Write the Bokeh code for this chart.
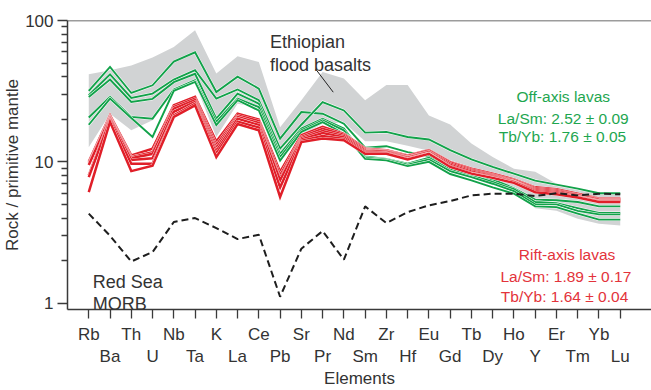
from bokeh.plotting import figure
from bokeh.models import Range1d, FixedTicker, LinearAxis, Span, Label
from bokeh.embed import file_html
from bokeh.resources import INLINE

# ---------------- data ----------------
elements = ["Rb", "Ba", "Th", "U", "Nb", "Ta", "K", "La", "Ce", "Pb", "Sr", "Pr", "Nd",
            "Sm", "Zr", "Hf", "Eu", "Gd", "Tb", "Dy", "Ho", "Y", "Er", "Tm", "Yb", "Lu"]
xpos = list(range(len(elements)))

# Ethiopian flood basalts envelope
efb_upper = [41.6, 44.5, 48.0, 54.7, 65.0, 85.4, 42.2, 55.8, 50.9, 17.6, 27.3, 43.3, 38.8,
             27.3, 35.0, 35.0, 21.3, 18.4, 13.5, 10.8, 8.95, 8.5, 7.0, 6.45, 6.05, 5.95]
efb_lower = [12.7, 21.9, 16.7, 19.7, 31.5, 36.0, 15.0, 25.8, 24.4, 10.2, 15.4, 18.6, 19.0,
             14.0, 14.0, 13.0, 12.0, 10.0, 8.9, 7.6, 6.3, 4.7, 4.5, 3.96, 3.65, 3.55]

# Off-axis lavas (green)
off_axis_1 = [31.8, 46.9, 30.7, 34.8, 51.2, 59.6, 31.2, 40.0, 33.0, 14.6, 22.5, 21.9, 18.6,
              12.6, 12.9, 11.7, 11.0, 9.0, 8.3, 7.5, 6.5, 5.4, 5.35, 5.2, 4.84, 4.84]
off_axis_2 = [29.6, 41.6, 28.3, 30.4, 38.2, 44.5, 28.0, 32.5, 27.3, 12.4, 18.3, 26.5, 23.1,
              16.1, 16.3, 15.0, 14.4, 12.1, 10.4, 9.2, 8.25, 7.36, 6.9, 6.46, 6.0, 6.0]
off_axis_3 = [28.8, 38.2, 26.5, 27.9, 36.6, 42.0, 20.2, 30.4, 25.8, 11.4, 17.2, 20.2, 17.2,
              10.9, 10.5, 9.7, 10.7, 8.8, 8.0, 7.2, 6.4, 5.2, 5.1, 4.7, 4.35, 4.35]
off_axis_4 = [20.6, 28.8, 20.8, 20.2, 32.5, 37.8, 19.2, 28.0, 24.4, 10.8, 16.7, 19.7, 16.7,
              10.7, 10.4, 9.55, 10.4, 8.6, 7.8, 7.0, 6.2, 5.0, 5.0, 4.5, 4.25, 4.25]
off_axis_5 = [18.3, 28.0, 20.4, 15.0, 31.8, 36.8, 18.2, 27.3, 23.1, 10.2, 16.3, 19.1, 15.8,
              10.5, 10.25, 9.33, 10.0, 8.2, 7.4, 6.6, 5.95, 4.84, 4.78, 4.3, 3.9, 3.9]

# Rift-axis lavas (red)
rift_axis_1 = [10.0, 21.3, 11.1, 12.4, 25.1, 28.8, 13.9, 21.9, 19.9, 8.5, 15.4, 17.7, 15.8,
               12.4, 12.1, 11.1, 12.1, 10.0, 8.95, 8.25, 7.5, 6.6, 6.4, 5.95, 5.5, 5.5]
rift_axis_2 = [9.7, 20.8, 10.8, 11.7, 24.4, 28.0, 13.1, 21.3, 19.4, 8.0, 15.0, 17.1, 15.5,
               12.2, 11.9, 11.0, 12.0, 9.9, 8.8, 8.1, 7.4, 6.5, 6.3, 5.85, 5.45, 5.45]
rift_axis_3 = [9.5, 20.5, 10.6, 11.4, 23.8, 27.3, 12.5, 20.8, 18.8, 7.6, 14.7, 16.5, 15.2,
               12.0, 11.8, 10.8, 11.8, 9.7, 8.65, 8.0, 7.3, 6.4, 6.2, 5.8, 5.4, 5.4]
rift_axis_4 = [8.0, 20.2, 10.3, 10.6, 22.6, 26.5, 11.9, 20.2, 18.2, 7.4, 14.4, 16.0, 14.9,
               11.8, 11.6, 10.7, 11.7, 9.5, 8.5, 7.9, 7.25, 6.3, 6.1, 5.7, 5.3, 5.3]
rift_axis_5 = [7.8, 19.7, 9.7, 9.7, 21.3, 25.8, 11.4, 19.2, 17.5, 6.6, 14.1, 15.2, 14.5,
               11.6, 11.5, 10.5, 11.5, 9.3, 8.35, 7.8, 7.2, 6.2, 6.0, 5.65, 5.25, 5.25]
rift_axis_6 = [6.1, 19.2, 8.6, 9.4, 20.8, 25.1, 10.8, 18.5, 16.7, 5.64, 13.8, 14.6, 14.2,
               11.4, 11.4, 10.4, 11.4, 9.2, 8.25, 7.7, 7.1, 6.1, 5.9, 5.6, 5.2, 5.2]

# Red Sea MORB
red_sea_morb = [4.3, 3.0, 1.97, 2.3, 3.75, 4.0, 3.4, 2.84, 3.05, 1.11, 2.43, 3.24, 2.03,
                4.84, 3.69, 4.41, 4.92, 5.28, 5.79, 5.95, 5.95, 5.73, 6.0, 5.79, 5.95, 5.89]

y_major = [1, 10, 100]
y_minor = [m * d for d in (1, 10) for m in range(2, 10)]

# ---------------- style ----------------
FONT = "Liberation Sans"
AXIS_COL = "#3a3a3a"
TXT_COL = "#333333"
GREEN = "#12a24a"
RED = "#e01f29"
GREEN_TXT = "#1ea64f"
RED_TXT = "#e3333b"
BAND = "#d1d3d4"

p = figure(width=651, height=390, y_axis_type="log",
           x_range=Range1d(-1.0, 26.47), y_range=Range1d(0.902, 100),
           output_backend="svg", toolbar_location=None,
           min_border_left=0, min_border_right=0, min_border_top=20, min_border_bottom=0)
p.outline_line_color = None
p.grid.visible = False
p.background_fill_color = "white"
p.border_fill_color = "white"

# band
p.patch(xpos + xpos[::-1], efb_upper + efb_lower[::-1], fill_color=BAND, line_color=None)

# pointer line for flood basalts label
p.line([10.68, 11.5], [45.2, 31.1], line_color="#222222", line_width=1)

# green lines with thin white casing
for ys in (off_axis_1, off_axis_2, off_axis_3, off_axis_4, off_axis_5):
    p.line(xpos, ys, line_color="white", line_width=2.8, line_join="miter")
    p.line(xpos, ys, line_color=GREEN, line_width=1.9, line_join="miter")

# red lines with white casing
for ys in (rift_axis_1, rift_axis_2, rift_axis_3, rift_axis_4, rift_axis_5, rift_axis_6):
    p.line(xpos, ys, line_color="white", line_width=3.1, line_join="miter")
    p.line(xpos, ys, line_color=RED, line_width=2.5, line_join="miter")

# MORB dashed
p.line(xpos, red_sea_morb, line_color="#1e1e1e", line_width=2, line_dash="7 4")

# top frame line
p.add_layout(Span(location=100, dimension="width", line_color=AXIS_COL, line_width=1.5))

# ---- y axis ----
ya = p.yaxis[0]
ya.ticker = FixedTicker(ticks=y_major, minor_ticks=y_minor)
ya.major_label_overrides = {1: "1", 10: "10", 100: "100"}
ya.axis_label = "Rock / primitive mantle"
ya.axis_label_text_font = FONT
ya.axis_label_text_font_size = "17px"
ya.axis_label_text_font_style = "normal"
ya.axis_label_text_color = TXT_COL
ya.axis_label_standoff = 0
ya.major_label_text_font = FONT
ya.major_label_text_font_size = "17px"
ya.major_label_text_color = TXT_COL
ya.major_label_standoff = 4
ya.axis_line_color = AXIS_COL
ya.axis_line_width = 1.5
ya.major_tick_line_color = AXIS_COL
ya.minor_tick_line_color = AXIS_COL
ya.major_tick_line_width = 1.3
ya.minor_tick_line_width = 1.3
ya.major_tick_out = 10
ya.major_tick_in = 0
ya.minor_tick_out = 6
ya.minor_tick_in = 0

# ---- x axes (two rows of labels) ----
xa = p.xaxis[0]
xa.ticker = FixedTicker(ticks=xpos)
xa.major_label_overrides = {i: (elements[i] if i % 2 == 0 else "") for i in xpos}
xa.major_label_text_font = FONT
xa.major_label_text_font_size = "17px"
xa.major_label_text_color = TXT_COL
xa.major_label_standoff = 6
xa.axis_line_color = AXIS_COL
xa.axis_line_width = 1.5
xa.major_tick_line_color = AXIS_COL
xa.major_tick_line_width = 1.3
xa.major_tick_out = 9
xa.major_tick_in = 0
xa.minor_tick_line_color = None

xa2 = LinearAxis(ticker=FixedTicker(ticks=xpos[1::2]),
                 major_label_overrides={i: elements[i] for i in xpos[1::2]})
xa2.axis_line_color = None
xa2.major_tick_line_color = None
xa2.minor_tick_line_color = None
xa2.major_tick_out = 0
xa2.major_tick_in = 0
xa2.major_label_standoff = 0
xa2.major_label_text_font = FONT
xa2.major_label_text_font_size = "17px"
xa2.major_label_text_color = TXT_COL
xa2.axis_label = "Elements"
xa2.axis_label_text_font = FONT
xa2.axis_label_text_font_size = "17px"
xa2.axis_label_text_font_style = "normal"
xa2.axis_label_text_color = TXT_COL
xa2.axis_label_standoff = 0
p.add_layout(xa2, "below")

# ---- annotations ----
def add_label(x, y, text, color, size, align):
    p.add_layout(Label(x=x, y=y, text=text, text_color=color, text_font=FONT,
                       text_font_size=size, text_align=align, text_baseline="alphabetic"))

add_label(8.52, 69.9, "Ethiopian", TXT_COL, "18px", "left")
add_label(8.52, 48.8, "flood basalts", TXT_COL, "18px", "left")
add_label(22.32, 28.8, "Off-axis lavas", GREEN_TXT, "15.5px", "center")
add_label(22.32, 20.2, "La/Sm: 2.52 \u00b1 0.09", GREEN_TXT, "15.5px", "center")
add_label(22.28, 15.0, "Tb/Yb: 1.76 \u00b1 0.05", GREEN_TXT, "15.5px", "center")
add_label(22.5, 2.21, "Rift-axis lavas", RED_TXT, "15.5px", "center")
add_label(22.44, 1.545, "La/Sm: 1.89 \u00b1 0.17", RED_TXT, "15.5px", "center")
add_label(22.38, 1.115, "Tb/Yb: 1.64 \u00b1 0.04", RED_TXT, "15.5px", "center")
add_label(0.19, 1.409, "Red Sea", TXT_COL, "18px", "left")
add_label(0.19, 0.99, "MORB", TXT_COL, "18px", "left")

open("out.html", "w").write(file_html(p, INLINE))
